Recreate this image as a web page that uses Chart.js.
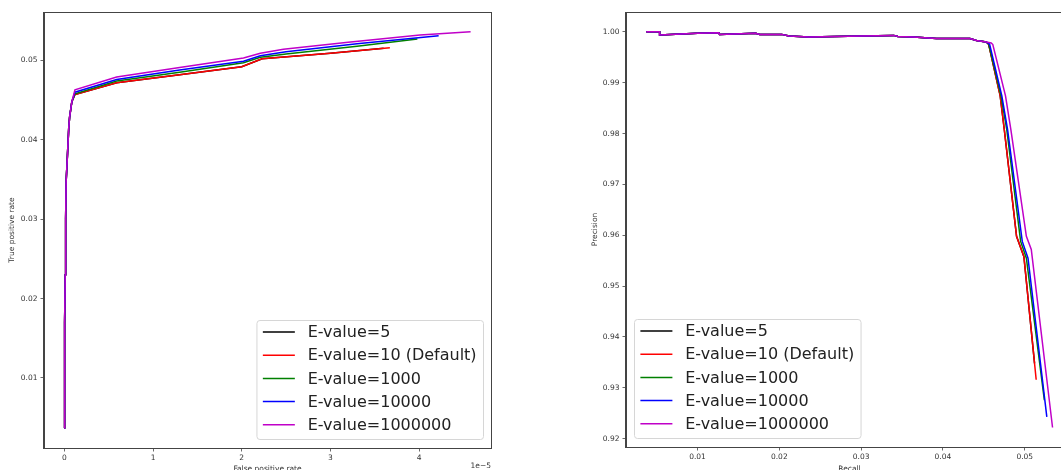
<!DOCTYPE html>
<html lang="en">
<head>
<meta charset="UTF-8">
<title>E-value ROC and precision-recall curves</title>
<script src="https://cdn.jsdelivr.net/npm/chart.js@4.4.1/dist/chart.umd.min.js"></script>
<style>
  html, body { margin: 0; padding: 0; background: #fff; overflow: hidden; width: 1061px; height: 470px; }
  canvas { position: absolute; top: 0; }
  #roc { left: 0; }
  #pr { left: 575px; }
</style>
</head>
<body>
<canvas id="roc" width="500" height="480"></canvas>
<canvas id="pr" width="503" height="480"></canvas>
<script>
const seriesLabels = ['E-value=5', 'E-value=10 (Default)', 'E-value=1000', 'E-value=10000', 'E-value=1000000'];
const seriesColors = ['#000000', '#ff0000', '#008000', '#0000ff', '#c000c8'];

// left panel: false positive rate (x 1e-5) vs true positive rate
const rocXTicks = [0, 1, 2, 3, 4];
const rocYTicks = [0.01, 0.02, 0.03, 0.04, 0.05];
const rocStart = [[0, 0.0037], [0.003, 0.0052], [0.004, 0.017], [0.01, 0.023], [0.015, 0.030], [0.02, 0.0346],
                  [0.035, 0.038], [0.05, 0.0415], [0.06, 0.0429], [0.085, 0.0448]];
const rocE5 = [[0.12, 0.0457], [0.59, 0.0472], [1.3, 0.0482], [2.0, 0.0492], [2.23, 0.0502], [3.0, 0.0509], [3.6, 0.05153]];
const rocE10 = [[0.12, 0.0457], [0.59, 0.0472], [1.3, 0.0482], [2.0, 0.0492], [2.23, 0.0502], [3.0, 0.0509], [3.67, 0.0516]];
const rocE1000 = [[0.12, 0.0458], [0.59, 0.0474], [1.3, 0.0485], [2.02, 0.0497], [2.21, 0.0504], [2.5, 0.0508], [3.3, 0.0518], [3.98, 0.0527]];
const rocE10000 = [[0.12, 0.0460], [0.59, 0.0476], [1.3, 0.0488], [2.02, 0.0499], [2.21, 0.0506], [2.5, 0.0511], [3.3, 0.0521], [4.22, 0.0531]];
const rocE1000000 = [[0.12, 0.0463], [0.59, 0.0479], [1.3, 0.0491], [2.02, 0.0503], [2.21, 0.0509], [2.47, 0.0514], [3.2, 0.0523], [4.01, 0.0532], [4.58, 0.0536]];

// right panel: recall vs precision
const prXTicks = [0.01, 0.02, 0.03, 0.04, 0.05];
const prYTicks = [0.92, 0.93, 0.94, 0.95, 0.96, 0.97, 0.98, 0.99, 1.00];
const prTop = [[0.00374, 1.0], [0.00537, 1.0], [0.00537, 0.9994], [0.0080, 0.99955], [0.0100, 0.9997], [0.0126, 0.9998],
               [0.0127, 0.9995], [0.0171, 0.9997], [0.0176, 0.9995], [0.0203, 0.9995], [0.0212, 0.9992], [0.0236, 0.9990],
               [0.0300, 0.9992], [0.0340, 0.9993], [0.0345, 0.9991], [0.0364, 0.9990], [0.0392, 0.9987], [0.0433, 0.9987],
               [0.0441, 0.9983], [0.0453, 0.9980]];
const prE5 = [[0.0456, 0.9975], [0.0470, 0.9874], [0.0475, 0.9808], [0.0490, 0.9598], [0.0499, 0.9558], [0.0512, 0.9348]];
const prE10 = [[0.0456, 0.9975], [0.0470, 0.9874], [0.0475, 0.9808], [0.0490, 0.9598], [0.0499, 0.9558], [0.0514, 0.9316]];
const prE1000 = [[0.0456, 0.9976], [0.0471, 0.9874], [0.0478, 0.9808], [0.0495, 0.9588], [0.0502, 0.9555], [0.0524, 0.9276]];
const prE10000 = [[0.0457, 0.9976], [0.0472, 0.9874], [0.0479, 0.9808], [0.0497, 0.9588], [0.0504, 0.9555], [0.0527, 0.9243]];
const prE1000000 = [[0.0459, 0.9978], [0.0461, 0.9975], [0.04765, 0.9874], [0.0483, 0.9808], [0.0502, 0.9598], [0.0508, 0.9572], [0.0534, 0.9222]];

const FONT = 'DejaVu Sans';
const INK = '#333';

function toPoints(...parts) {
  return [].concat(...parts).map(p => ({ x: p[0], y: p[1] }));
}

function makeDatasets(curves) {
  return curves.map((pts, i) => ({
    label: seriesLabels[i],
    data: pts,
    borderColor: seriesColors[i],
    borderWidth: 1.5,
    pointRadius: 0,
    showLine: true,
    fill: false,
    tension: 0,
    order: curves.length - i
  }));
}

// spines, axis titles, offset text and legend
const decor = {
  id: 'decor',
  afterDraw(chart, args, opts) {
    const { ctx, chartArea: a } = chart;
    ctx.save();
    ctx.strokeStyle = '#444';
    ctx.lineWidth = 1;
    ctx.strokeRect(a.left - 0.5, a.top + 0.5, a.right - a.left + 1, a.bottom - a.top);

    ctx.fillStyle = INK;
    ctx.font = '7.5px "' + FONT + '"';
    ctx.textAlign = 'center';
    ctx.textBaseline = 'middle';
    ctx.fillText(opts.xTitle, (a.left + a.right) / 2, opts.xTitleY);
    ctx.save();
    ctx.translate(opts.yTitleX, (a.top + a.bottom) / 2);
    ctx.rotate(-Math.PI / 2);
    ctx.fillText(opts.yTitle, 0, 0);
    ctx.restore();
    if (opts.offsetText) {
      ctx.textAlign = 'right';
      ctx.textBaseline = 'top';
      ctx.fillText(opts.offsetText, a.right, 462);
    }

    // legend box
    ctx.font = '16px "' + FONT + '"';
    const pad = 6.4, handle = 32, gap = 12.8, rowH = 23.2;
    const textW = Math.max(...seriesLabels.map(s => ctx.measureText(s).width));
    const w = pad + handle + gap + textW + pad;
    const h = 119;
    const x0 = opts.legendAt === 'right' ? a.right - 8 - w : a.left + 8;
    const y0 = a.bottom - 9 - h;
    ctx.beginPath();
    ctx.roundRect(x0 + 0.5, y0 + 0.5, w, h, 3);
    ctx.fillStyle = 'rgba(255,255,255,0.85)';
    ctx.fill();
    ctx.strokeStyle = '#d6d6d6';
    ctx.stroke();
    ctx.textAlign = 'left';
    ctx.textBaseline = 'middle';
    seriesLabels.forEach((lab, i) => {
      const cy = y0 + 12 + i * rowH;
      ctx.strokeStyle = seriesColors[i];
      ctx.lineWidth = 1.5;
      ctx.beginPath();
      ctx.moveTo(x0 + pad, cy);
      ctx.lineTo(x0 + pad + handle, cy);
      ctx.stroke();
      ctx.fillStyle = '#222';
      ctx.fillText(lab, x0 + pad + handle + gap, cy + 1);
    });
    ctx.restore();
  }
};

function axis(min, max, tickVals, fmt, size, horizontal) {
  return {
    type: 'linear',
    min: min,
    max: max,
    afterBuildTicks: s => { s.ticks = tickVals.map(v => ({ value: v })); },
    afterFit: s => { if (horizontal) s.height = size; else s.width = size; },
    grid: { drawOnChartArea: false, drawTicks: true, tickLength: 3.5, tickColor: '#444', tickWidth: 0.8 },
    border: { display: true, color: '#444', width: 1 },
    ticks: {
      autoSkip: false,
      maxRotation: 0,
      padding: horizontal ? 2 : 3,
      color: INK,
      font: { family: FONT, size: 7.5 },
      callback: v => fmt(v)
    }
  };
}

function baseOptions(scales, decorOpts, padRight) {
  return {
    responsive: false,
    animation: false,
    layout: { padding: { top: 12, right: padRight, left: 0, bottom: 0 } },
    scales: scales,
    plugins: {
      legend: { display: false },
      tooltip: { enabled: false },
      decor: decorOpts
    }
  };
}

new Chart(document.getElementById('roc'), {
  type: 'scatter',
  data: {
    datasets: makeDatasets([
      toPoints(rocStart, rocE5),
      toPoints(rocStart, rocE10),
      toPoints(rocStart, rocE1000),
      toPoints(rocStart, rocE10000),
      toPoints(rocStart, rocE1000000)
    ])
  },
  options: baseOptions({
    x: axis(-0.229, 4.81, rocXTicks, v => String(v), 32, true),
    y: axis(0.00118, 0.0561, rocYTicks, v => v.toFixed(2), 44, false)
  }, { xTitle: 'False positive rate', yTitle: 'True positive rate', xTitleY: 469, yTitleX: 12, offsetText: '1e\u22125', legendAt: 'right' }, 9),
  plugins: [decor]
});

new Chart(document.getElementById('pr'), {
  type: 'scatter',
  data: {
    datasets: makeDatasets([
      toPoints(prTop, prE5),
      toPoints(prTop, prE10),
      toPoints(prTop, prE1000),
      toPoints(prTop, prE10000),
      toPoints(prTop, prE1000000)
    ])
  },
  options: baseOptions({
    x: axis(0.00126, 0.0559, prXTicks, v => v.toFixed(2), 33, true),
    y: axis(0.91837, 1.0039, prYTicks, v => v.toFixed(2), 51, false)
  }, { xTitle: 'Recall', yTitle: 'Precision', xTitleY: 469, yTitleX: 20, offsetText: '', legendAt: 'left' }, 5),
  plugins: [decor]
});
</script>
</body>
</html>
